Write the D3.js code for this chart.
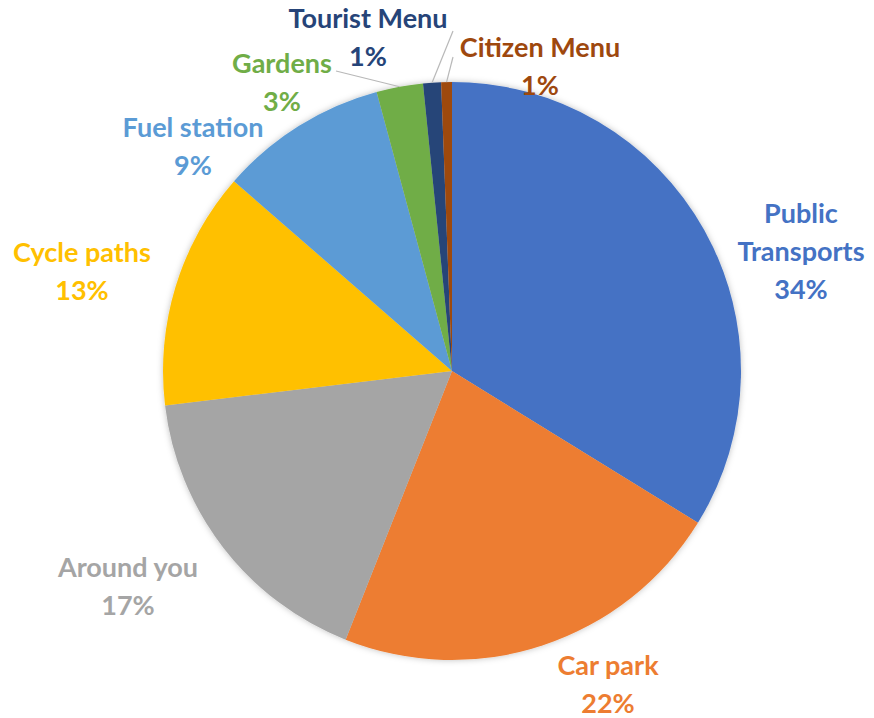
<!DOCTYPE html>
<html>
<head>
<meta charset="utf-8">
<script src="https://cdn.jsdelivr.net/npm/d3@7"></script>
<style>
  html, body { margin: 0; padding: 0; background: #fff; }
  svg { display: block; }
  text { font-family: Lato, "Open Sans", sans-serif; font-weight: bold; }
</style>
</head>
<body>
<svg id="chart" width="874" height="718"></svg>
<script>
// Share of usage per app section (percent)
const categories = ["Public Transports", "Car park", "Around you", "Cycle paths",
                    "Fuel station", "Gardens", "Tourist Menu", "Citizen Menu"];
const values = [33.8, 22.2, 17.1, 13.3, 9.4, 2.6, 1.0, 0.6];
const colors = ["#4472C4", "#ED7D31", "#A5A5A5", "#FFC000",
                "#5B9BD5", "#70AD47", "#264478", "#9E480E"];

// Label placement (text block centre, first-line baseline) and line breaks
const labelLayout = [
  { x: 801, y: 223, lines: ["Public", "Transports"] },
  { x: 608, y: 675, lines: ["Car park"] },
  { x: 128, y: 577, lines: ["Around you"] },
  { x: 82,  y: 262, lines: ["Cycle paths"] },
  { x: 193, y: 137, lines: ["Fuel station"] },
  { x: 282, y: 73,  lines: ["Gardens"] },
  { x: 368, y: 28,  lines: ["Tourist Menu"] },
  { x: 540, y: 57,  lines: ["Citizen Menu"] }
];
// Leader lines for the thin slices: start point near the label
const leaders = { 5: [336, 71], 6: [453, 31], 7: [453, 57] };

const cx = 452, cy = 371, r = 289;
const lineH = 38;

const svg = d3.select("#chart");
const defs = svg.append("defs");
const f = defs.append("filter").attr("id", "soft").attr("x", "-10%").attr("y", "-10%")
  .attr("width", "120%").attr("height", "120%");
f.append("feDropShadow").attr("dx", 0).attr("dy", 0).attr("stdDeviation", 3)
  .attr("flood-color", "#000").attr("flood-opacity", 0.25);

const data = categories.map((c, i) => ({ name: c, value: values[i], color: colors[i], idx: i }));
const pie = d3.pie().sort(null).value(d => d.value);
const arc = d3.arc().innerRadius(0).outerRadius(r);
const arcs = pie(data);

const g = svg.append("g").attr("transform", `translate(${cx},${cy})`);
g.append("g").attr("filter", "url(#soft)")
  .selectAll("path").data(arcs).join("path")
  .attr("d", arc)
  .attr("fill", d => d.data.color);

// Leader lines from the label to the slice's outer edge
Object.entries(leaders).forEach(([i, p]) => {
  const a = arcs[+i];
  const mid = (a.startAngle + a.endAngle) / 2;
  const ex = cx + Math.sin(mid) * r, ey = cy - Math.cos(mid) * r;
  svg.append("line")
    .attr("x1", p[0]).attr("y1", p[1]).attr("x2", ex).attr("y2", ey)
    .attr("stroke", "#b8b8b8").attr("stroke-width", 1.2);
});

// Labels: name lines then rounded percentage
const fmt = v => Math.round(v) + "%";
arcs.forEach((a, i) => {
  const L = labelLayout[i];
  const t = svg.append("text")
    .attr("text-anchor", "middle")
    .attr("font-size", 27)
    .attr("fill", a.data.color);
  const lines = L.lines.concat([fmt(a.data.value)]);
  lines.forEach((s, k) => {
    t.append("tspan").attr("x", L.x).attr("y", L.y + k * lineH).text(s);
  });
});
</script>
</body>
</html>
